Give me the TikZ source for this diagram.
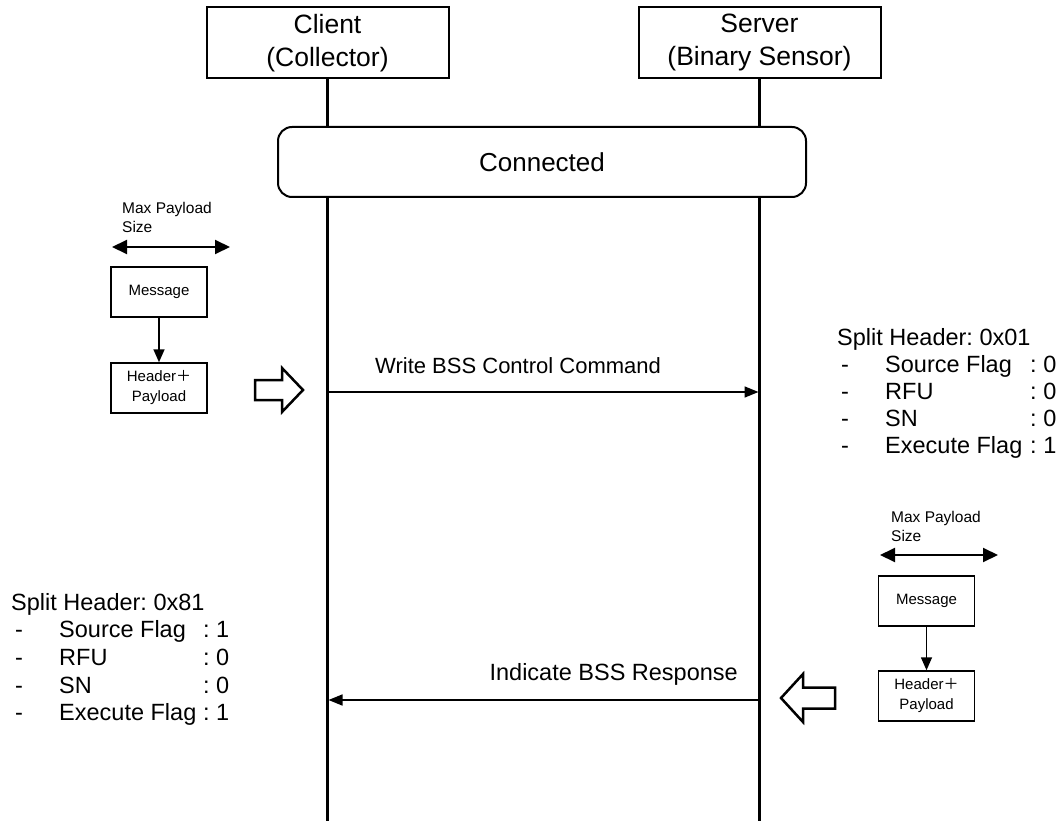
\documentclass[tikz,border=0pt]{standalone}
\usepackage{fontspec}
\setmainfont{Liberation Sans}
\newfontfamily\cjk{Noto Sans CJK JP}
\usetikzlibrary{arrows.meta}
\frenchspacing
\begin{document}
\begin{tikzpicture}[x=1pt,y=-1pt,
  actor/.style={draw,line width=2pt,minimum width=242pt,minimum height=71pt,
    align=center,inner sep=0pt,font=\fontsize{26.5}{33}\selectfont},
  smallbox/.style={draw,line width=1.5pt,minimum width=96pt,minimum height=50pt,
    align=center,inner sep=0pt,font=\fontsize{15}{20}\selectfont},
  life/.style={line width=3pt},
  msg/.style={line width=1.6pt,-{Triangle[length=14pt,width=11pt]},shorten >=1pt},
  span/.style={line width=2pt,{Triangle[length=15pt,width=14pt]}-{Triangle[length=15pt,width=14pt]}},
  down/.style={line width=1.6pt,-{Triangle[length=13pt,width=11pt]}},
  fat/.style={line width=2.5pt,line join=miter},
  lbl/.style={inner sep=0pt,font=\fontsize{22}{26}\selectfont},
  small/.style={inner sep=0pt,anchor=west,align=left,font=\fontsize{15.5}{19}\selectfont},
  hdr/.style={inner sep=0pt,anchor=base west,font=\fontsize{23.5}{27}\selectfont}]
\useasboundingbox (0,0) rectangle (1060,821);

% participants and lifelines
\node[actor] (client) at (327.5,43) {Client\\(Collector)};
\node[actor] (server) at (759.5,43) {Server\\(Binary Sensor)};
\coordinate (cEnd) at (327.5,821);
\coordinate (sEnd) at (759.5,821);
\draw[life] (client.south) -- (cEnd);
\draw[life] (server.south) -- (sEnd);

% connection state
\node[draw,line width=2pt,rounded corners=14pt,fill=white,minimum width=528pt,
  minimum height=70pt,font=\fontsize{26}{30}\selectfont] (conn) at (542,162) {Connected};

% write command
\coordinate (wA) at (327.5,392);
\coordinate (wB) at (759.5,392);
\draw[msg] (wA) -- (wB);
\node[lbl,anchor=west] (wlbl) at (375,366) {Write BSS Control Command};

% response indication
\coordinate (rA) at (759.5,700);
\coordinate (rB) at (327.5,700);
\draw[msg] (rA) -- (rB);
\node[lbl,anchor=east,font=\fontsize{23.5}{27}\selectfont] (rlbl) at (738,674) {Indicate BSS Response};

% client-side segmentation
\node[small] (mpL) at (122,217.5) {Max Payload\\Size};
\coordinate (spL1) at (112,247);
\coordinate (spL2) at (230,247);
\draw[span] (spL1) -- (spL2);
\node[smallbox] (msgL) at (159,292) {Message};
\node[smallbox] (hdrL) at (159,388) {Header{\cjk ＋}\\Payload};
\draw[down] (msgL) -- (hdrL);
\draw[fat] (255,380) -- (282,380) -- (282,368) -- (303,390) -- (282,412) -- (282,400) -- (255,400) -- cycle;

% server-side segmentation
\node[small] (mpR) at (891,526) {Max Payload\\Size};
\coordinate (spR1) at (880,555);
\coordinate (spR2) at (998,555);
\draw[span] (spR1) -- (spR2);
\node[smallbox] (msgR) at (926.5,601) {Message};
\node[smallbox] (hdrR) at (926.5,696) {Header{\cjk ＋}\\Payload};
\draw[down] (msgR) -- (hdrR);
\draw[fat] (835,687.5) -- (803,687.5) -- (803,674) -- (781,698) -- (803,722) -- (803,708.5) -- (835,708.5) -- cycle;

% split header of the command (y values are baselines)
\node[hdr] (rh) at (837,345.5) {Split Header: 0x01};
\foreach \y/\name/\val [count=\i] in {372.5/Source Flag/0, 399.5/RFU/0, 426.5/SN/0, 453.5/Execute Flag/1}{
  \node[hdr] (rd\i) at (841,\y) {-};
  \node[hdr] (rn\i) at (885,\y) {\name};
  \node[hdr] (rv\i) at (1030,\y) {: \val};
}

% split header of the response (y values are baselines)
\node[hdr] (lh) at (11,610.5) {Split Header: 0x81};
\foreach \y/\name/\val [count=\i] in {637.5/Source Flag/1, 665.5/RFU/0, 693.5/SN/0, 720.5/Execute Flag/1}{
  \node[hdr] (ld\i) at (15,\y) {-};
  \node[hdr] (ln\i) at (59,\y) {\name};
  \node[hdr] (lv\i) at (203,\y) {: \val};
}
\end{tikzpicture}
\end{document}
